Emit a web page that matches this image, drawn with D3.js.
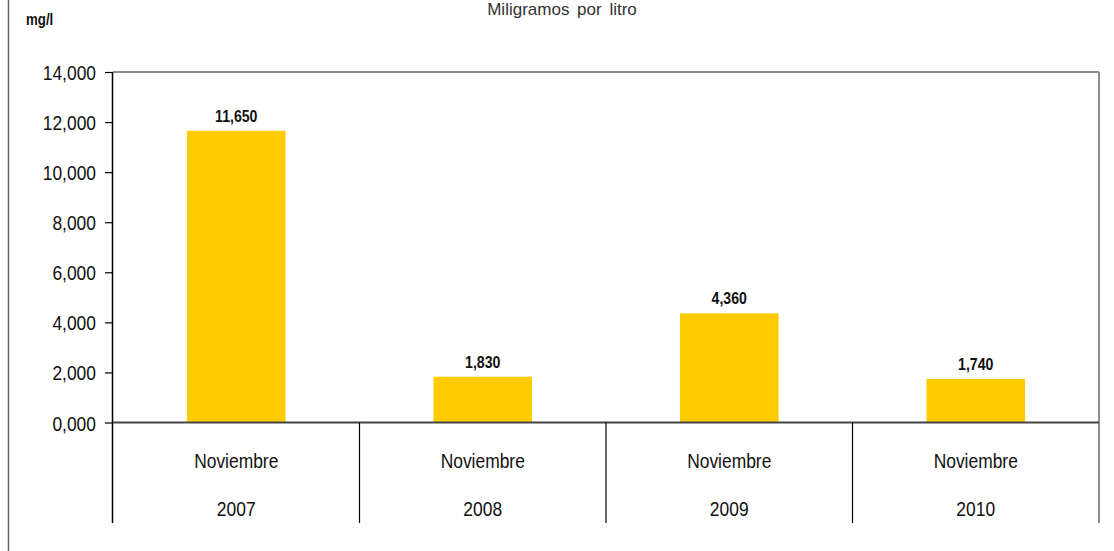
<!DOCTYPE html>
<html>
<head>
<meta charset="utf-8">
<script src="https://cdn.jsdelivr.net/npm/d3@7"></script>
<style>
  html, body { margin: 0; padding: 0; background: #fff; }
  svg { display: block; }
  text { font-family: "Liberation Sans Narrow", "Arial Narrow", "Liberation Sans", Arial, sans-serif; }
</style>
</head>
<body>
<svg id="chart" width="1114" height="551"></svg>
<script>
// ---- data ----
const months = ["Noviembre", "Noviembre", "Noviembre", "Noviembre"];
const years = ["2007", "2008", "2009", "2010"];
const values = [11.65, 1.83, 4.36, 1.74];
const yTicks = [0, 2, 4, 6, 8, 10, 12, 14];
const title = "Miligramos por litro";
const unitLabel = "mg/l";

// ---- layout ----
const W = 1114, H = 551;
const pLeft = 113, pRight = 1099, pTop = 72, pBottom = 422.5;
const catBottom = 523;
const SX = 0.83; // horizontal condensing to imitate a narrow face

const svg = d3.select("#chart");
const loc = d3.formatLocale({ decimal: ",", thousands: ".", grouping: [3], currency: ["", ""] });
const fmt = loc.format(".3f");

const x = d3.scaleBand().domain(years).range([pLeft, pRight]).paddingInner(0).paddingOuter(0);
const y = d3.scaleLinear().domain([0, 14]).range([pBottom, pTop]);

// outer frame (left edge)
svg.append("line").attr("x1", 8.5).attr("x2", 8.5).attr("y1", 0).attr("y2", H)
  .attr("stroke", "#666").attr("stroke-width", 1.5);

// title
svg.append("text").attr("x", 562).attr("y", 15).attr("text-anchor", "middle")
  .attr("font-size", 17).attr("fill", "#333").attr("word-spacing", 3).text(title);

// unit label
svg.append("text").attr("transform", `scale(${SX},1)`).attr("x", 26 / SX).attr("y", 25)
  .attr("font-size", 16).attr("font-weight", "bold").attr("fill", "#111").text(unitLabel);

// plot border: top and right (gray)
svg.append("line").attr("x1", pLeft).attr("x2", pRight).attr("y1", pTop).attr("y2", pTop)
  .attr("stroke", "#8c8c8c").attr("stroke-width", 2);
svg.append("line").attr("x1", pRight).attr("x2", pRight).attr("y1", pTop).attr("y2", catBottom)
  .attr("stroke", "#8c8c8c").attr("stroke-width", 2);

// bars
const bw = x.bandwidth() * 0.4;
svg.append("g").selectAll("rect").data(values).join("rect")
  .attr("x", (d, i) => x(years[i]) + x.bandwidth() / 2 - bw / 2)
  .attr("width", bw)
  .attr("y", d => y(d))
  .attr("height", d => y(0) - y(d))
  .attr("fill", "#FFCC00");

// data labels
svg.append("g").selectAll("text").data(values).join("text")
  .attr("transform", `scale(${SX},1)`)
  .attr("x", (d, i) => (x(years[i]) + x.bandwidth() / 2) / SX)
  .attr("y", d => y(d) - 9)
  .attr("text-anchor", "middle")
  .attr("font-size", 17).attr("font-weight", "bold").attr("fill", "#111")
  .text(d => fmt(d));

// y axis
const yAxis = d3.axisLeft(y).tickValues(yTicks).tickFormat(fmt).tickSize(8).tickPadding(9);
const gy = svg.append("g").attr("transform", `translate(${pLeft},0)`).call(yAxis);
gy.select(".domain").attr("d", `M-0.5,${pTop}V${catBottom}`).attr("stroke", "#000").attr("stroke-width", 1.5);
gy.selectAll(".tick line").attr("stroke", "#000").attr("stroke-width", 1.2);
gy.selectAll(".tick text").attr("font-size", 21).attr("fill", "#111")
  .style("font-family", '"Liberation Sans Narrow", "Arial Narrow", "Liberation Sans", Arial, sans-serif')
  .attr("dy", "0.36em")
  .attr("transform", `scale(${SX},1)`)
  .attr("x", -17 / SX);

// zero baseline
svg.append("line").attr("x1", pLeft).attr("x2", pRight).attr("y1", y(0)).attr("y2", y(0))
  .attr("stroke", "#444").attr("stroke-width", 2);

// category separators
const seps = years.slice(1);
svg.append("g").selectAll("line").data(seps).join("line")
  .attr("x1", d => x(d)).attr("x2", d => x(d))
  .attr("y1", y(0)).attr("y2", catBottom)
  .attr("stroke", "#000").attr("stroke-width", 1.2);

// category labels
const gx = svg.append("g").attr("transform", `scale(${SX},1)`);
gx.selectAll("text.m").data(months).join("text").attr("class", "m")
  .attr("x", (d, i) => (x(years[i]) + x.bandwidth() / 2) / SX)
  .attr("y", 468).attr("text-anchor", "middle")
  .attr("font-size", 21).attr("fill", "#111").text(d => d);
gx.selectAll("text.yr").data(years).join("text").attr("class", "yr")
  .attr("x", d => (x(d) + x.bandwidth() / 2) / SX)
  .attr("y", 516.5).attr("text-anchor", "middle")
  .attr("font-size", 21).attr("fill", "#111").text(d => d);
</script>
</body>
</html>
